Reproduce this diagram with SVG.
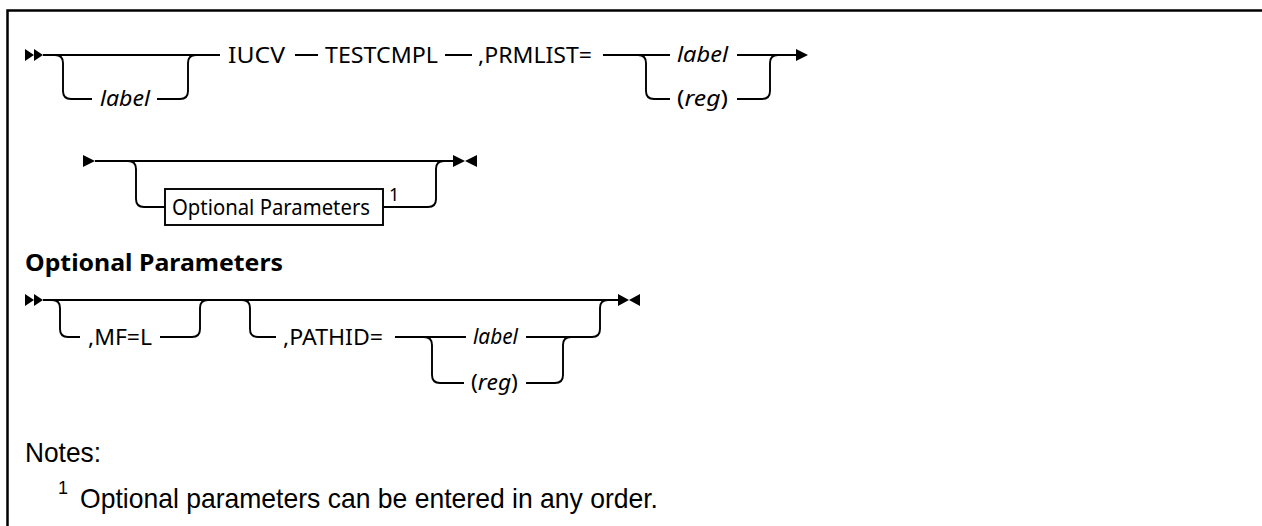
<svg xmlns="http://www.w3.org/2000/svg" width="1262" height="526" viewBox="0 0 1262 526">
<style>
.ln{fill:none;stroke:#000;stroke-width:1.9}
.ah{fill:#000}
.t{font-family:"Noto Sans","Liberation Sans",Arial,sans-serif;font-size:22px;fill:#000}
.i{font-style:italic}
.b{font-weight:bold}
.n{font-family:"Liberation Sans",Arial,sans-serif;font-size:28px;fill:#000}
</style>
<rect x="0" y="0" width="1262" height="526" fill="#fff"/>
<path d="M7.5 526 V10.5 H1262" fill="none" stroke="#000" stroke-width="2.5"/>
<g id="connectors">
<path class="ln" d="M43 55 H220"/>
<path class="ln" d="M55 55 Q63 55 63 63 V91 Q63 99 71 99 H92 M157 99 H180 Q188 99 188 91 V63 Q188 55 196 55"/>
<path class="ln" d="M295 55 H318 M445 55 H472 M603 55 H670 M737 55 H797"/>
<path class="ln" d="M638 55 Q646 55 646 63 V91 Q646 99 654 99 H670 M737 99 H762 Q770 99 770 91 V63 Q770 55 778 55"/>
<polygon class="ah" points="25,49 34,55 25,61"/>
<polygon class="ah" points="34,49 43,55 34,61"/>
<polygon class="ah" points="796,49 808,55 796,61"/>
<polygon class="ah" points="83,155 95,161 83,167"/>
<path class="ln" d="M95 161 H453"/>
<path class="ln" d="M128 161 Q136 161 136 169 V199 Q136 207 144 207 H165 M383 207 H428 Q436 207 436 199 V169 Q436 161 444 161"/>
<polygon class="ah" points="453,155 465,161 453,167"/>
<polygon class="ah" points="477,155 465,161 477,167"/>
<polygon class="ah" points="25,294 34,300 25,306"/>
<polygon class="ah" points="34,294 43,300 34,306"/>
<path class="ln" d="M43 300 H618"/>
<path class="ln" d="M52 300 Q60 300 60 308 V329 Q60 337 68 337 H80 M160 337 H192 Q200 337 200 329 V308 Q200 300 208 300"/>
<path class="ln" d="M242 300 Q250 300 250 308 V329 Q250 337 258 337 H276 M395 337 H466 M526 337 H592 Q600 337 600 329 V308 Q600 300 608 300"/>
<path class="ln" d="M424 337 Q432 337 432 345 V375 Q432 383 440 383 H464 M526 383 H555 Q563 383 563 375 V345 Q563 337 571 337"/>
<polygon class="ah" points="618,294 629,300 618,306"/>
<polygon class="ah" points="640,294 629,300 640,306"/>
</g>
<g id="n-label1"><text class="t i" x="100" y="106" textLength="50" lengthAdjust="spacingAndGlyphs">label</text></g>
<g id="n-iucv"><text class="t" x="228" y="63" textLength="57" lengthAdjust="spacingAndGlyphs">IUCV</text></g>
<g id="n-testcmpl"><text class="t" x="325" y="63" textLength="113" lengthAdjust="spacingAndGlyphs">TESTCMPL</text></g>
<g id="n-prmlist"><text class="t" x="478" y="63" textLength="114" lengthAdjust="spacingAndGlyphs">,PRMLIST=</text></g>
<g id="n-label2"><text class="t i" x="677" y="62" textLength="51" lengthAdjust="spacingAndGlyphs">label</text></g>
<g id="n-reg1"><text class="t" x="677" y="106" textLength="51" lengthAdjust="spacingAndGlyphs">(<tspan class="i">reg</tspan>)</text></g>
<g id="n-optparams">
<rect x="165" y="189" width="218" height="36" fill="#fff" stroke="#000" stroke-width="1.9"/>
<text class="t" x="172" y="215" textLength="198" lengthAdjust="spacingAndGlyphs">Optional Parameters</text>
<text class="t" x="389" y="201" style="font-size:18px">1</text>
</g>
<g id="n-heading"><text class="t b" x="25" y="271" style="font-size:24px" textLength="258" lengthAdjust="spacingAndGlyphs">Optional Parameters</text></g>
<g id="n-mf"><text class="t" x="88" y="345" textLength="64" lengthAdjust="spacingAndGlyphs">,MF=L</text></g>
<g id="n-pathid"><text class="t" x="283" y="345" textLength="100" lengthAdjust="spacingAndGlyphs">,PATHID=</text></g>
<g id="n-label3"><text class="t i" x="473" y="344" textLength="45" lengthAdjust="spacingAndGlyphs">label</text></g>
<g id="n-reg2"><text class="t" x="471" y="390" textLength="47" lengthAdjust="spacingAndGlyphs">(<tspan class="i">reg</tspan>)</text></g>
<g id="notes">
<text class="n" x="25" y="462" textLength="76" lengthAdjust="spacingAndGlyphs">Notes:</text>
<text class="n" x="58" y="494" style="font-size:18px">1</text>
<text class="n" x="80" y="508" textLength="578" lengthAdjust="spacingAndGlyphs">Optional parameters can be entered in any order.</text>
</g>
</svg>
